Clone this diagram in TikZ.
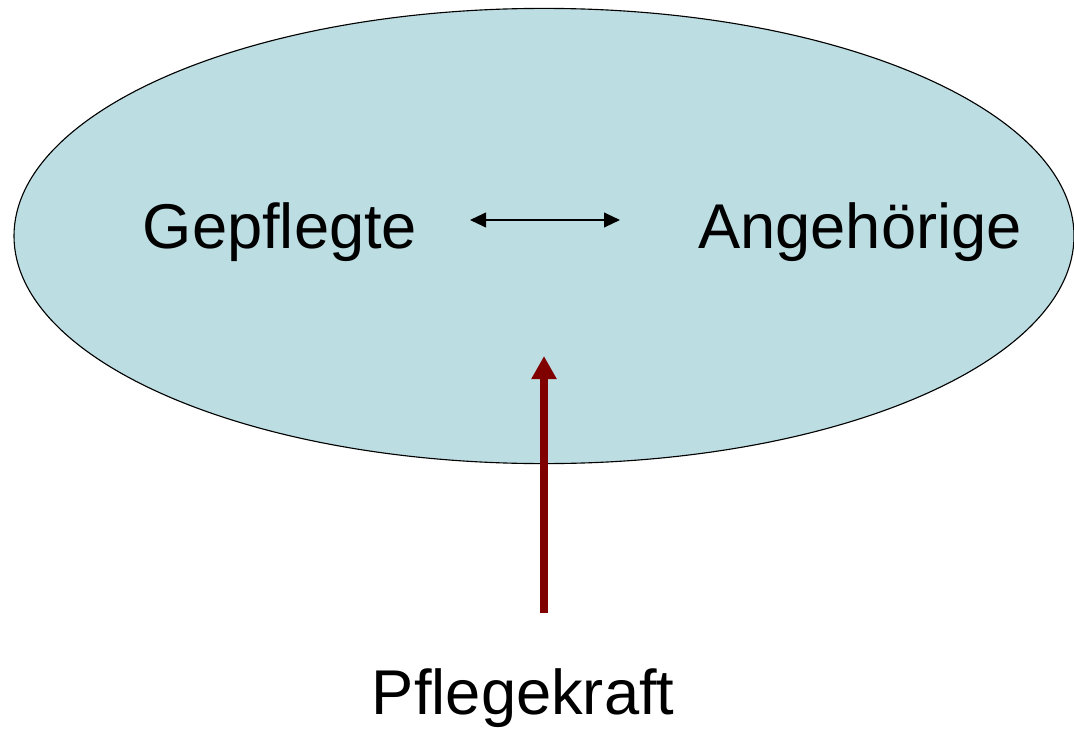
\documentclass[tikz,border=0pt]{standalone}
\usepackage{fontspec}
\setmainfont{Liberation Sans}
\usetikzlibrary{arrows.meta}
\definecolor{cloud}{RGB}{188, 222, 227}
\definecolor{pflege}{RGB}{128, 0, 0}

\begin{document}
\begin{tikzpicture}[
    label text/.style={font=\fontsize{45}{54}\selectfont, inner sep=0pt, anchor=base},
    thin arrow/.style={line width=1.1pt, {Triangle[length=0.4cm, width=0.37cm]}-{Triangle[length=0.4cm, width=0.37cm]}},
    care arrow/.style={line width=0.2cm, color=pflege, -{Triangle[length=0.58cm, width=0.6cm]}}
]
\useasboundingbox (0,0) rectangle (26.85,-18.275);

% Ellipse
\draw[fill=cloud, line width=0.8pt] (13.6,-5.9) ellipse [x radius=13.25, y radius=5.69];

% Texte
\node[label text] (gepflegte) at (7.0,-6.2) {Gepflegte};
\node[label text] (angehoerige) at (21.5,-6.2) {Angehörige};
\node[label text] (pflegekraft) at (13.08,-17.85) {Pflegekraft};

% Pfeile
\coordinate (links) at (11.75,-5.5);
\coordinate (rechts) at (15.5,-5.5);
\draw[thin arrow] (links) -- (rechts);

\coordinate (fuss) at (13.6,-15.33);
\coordinate (spitze) at (13.6,-8.9);
\draw[care arrow] (fuss) -- (spitze);
\end{tikzpicture}
\end{document}
